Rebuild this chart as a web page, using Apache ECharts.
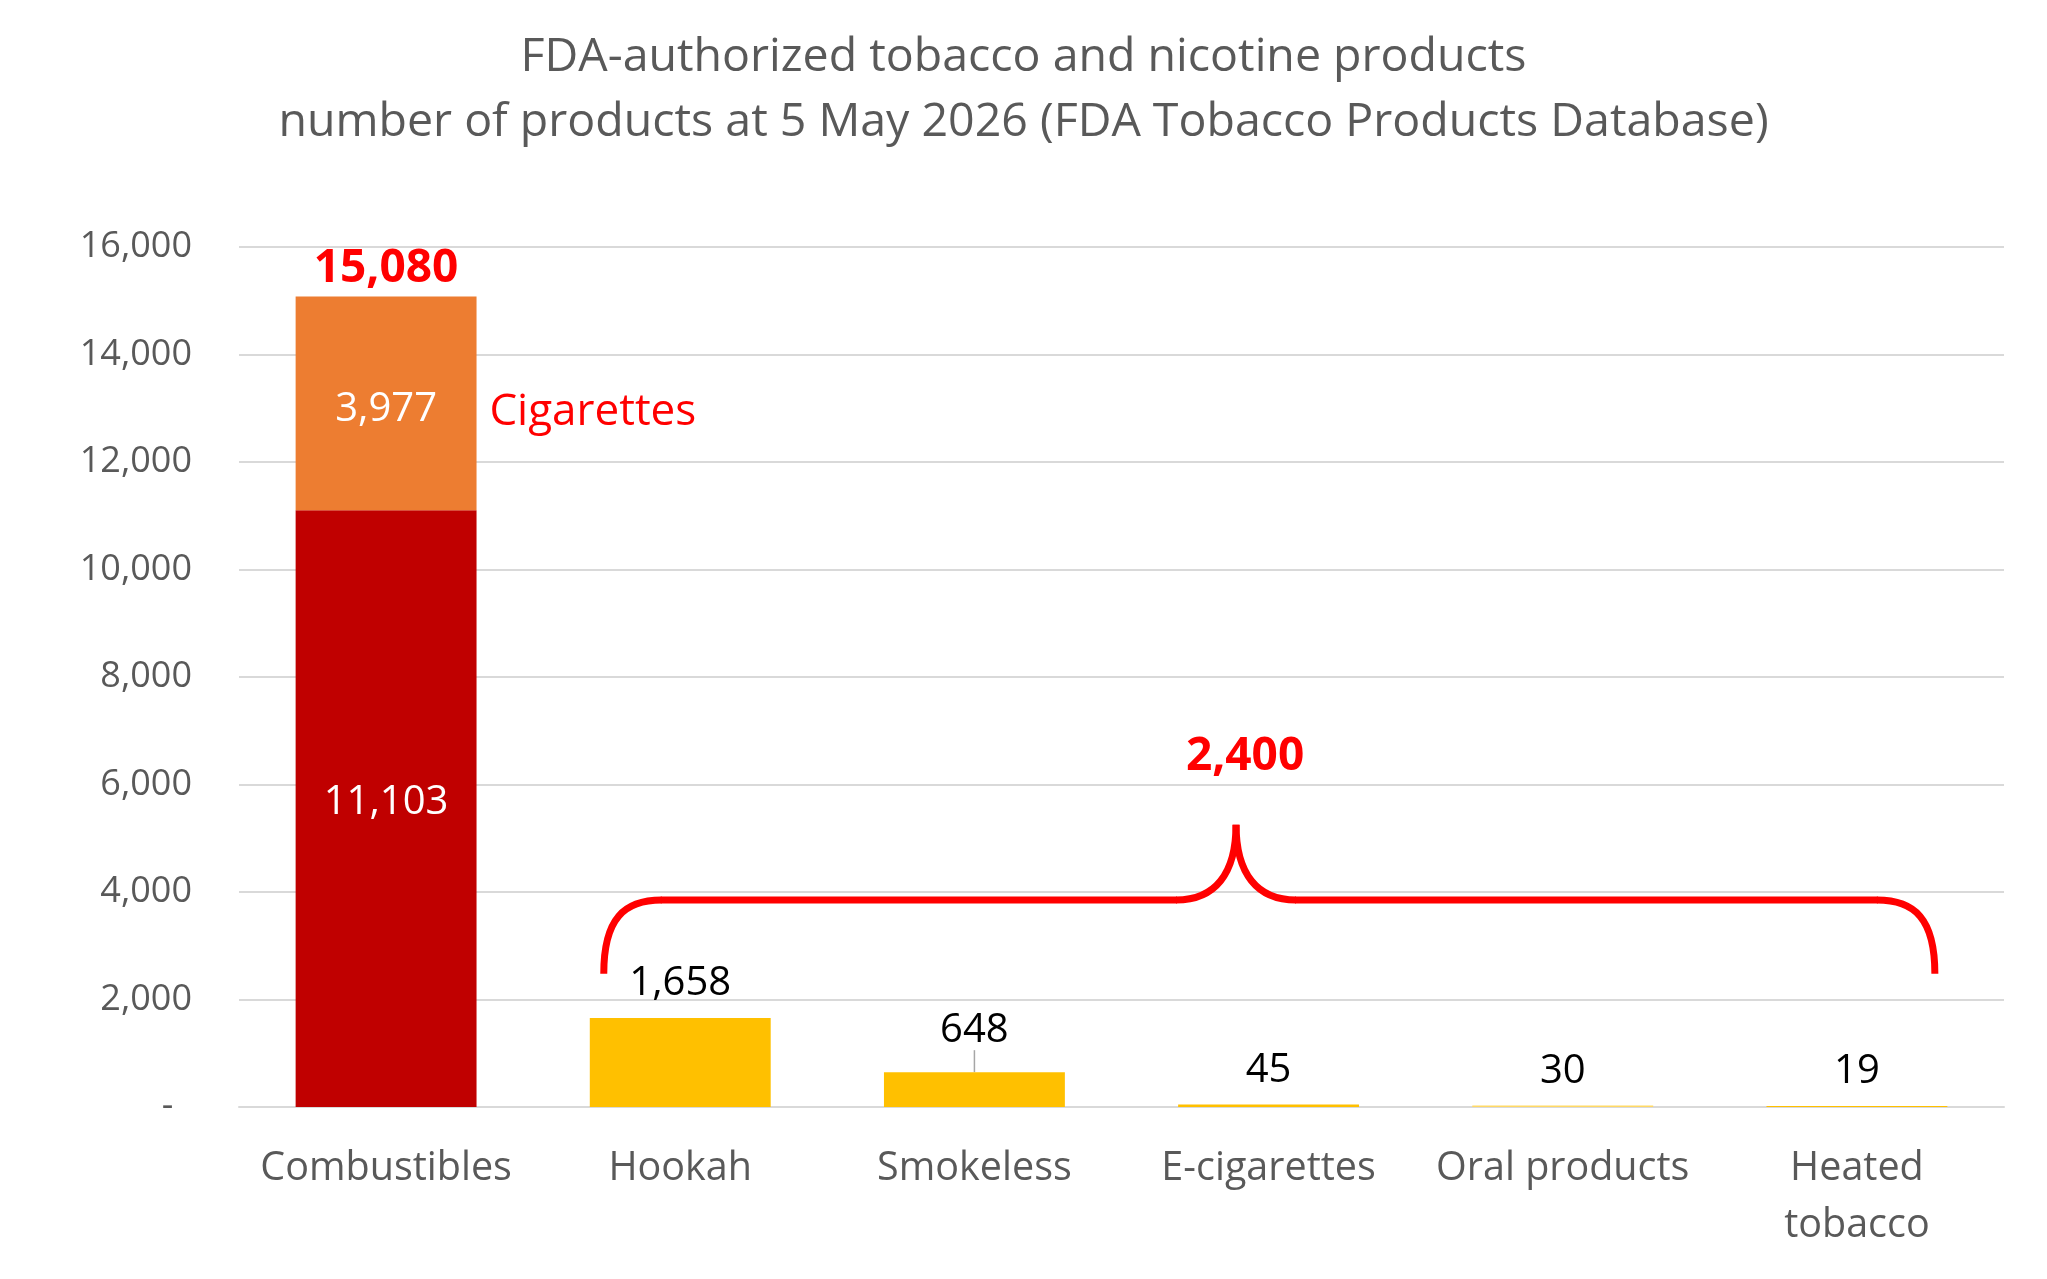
<!DOCTYPE html>
<html>
<head>
<meta charset="utf-8">
<script src="https://cdn.jsdelivr.net/npm/echarts@6/dist/echarts.min.js"></script>
<style>
  html, body { margin: 0; padding: 0; background: #fff; }
  #chart { width: 2047px; height: 1279px; }
</style>
</head>
<body>
<div id="chart"></div>
<script>
const categories = ['Combustibles', 'Hookah', 'Smokeless', 'E-cigarettes', 'Oral products', 'Heated\ntobacco'];
const otherCombustibles = [11103, null, null, null, null, null];
const cigarettes = [3977, null, null, null, null, null];
const otherProducts = [null, 1658, 648, 45, 30, 19];

// annotation levels (in axis values)
const braceEnd = 2480;
const braceBar = 3850;
const braceTip = 5250;

const FONT = '"Open Sans", "Noto Sans", sans-serif';
const fmt = v => Number(v).toLocaleString('en-US');

const chart = echarts.init(document.getElementById('chart'));

const option = {
  animation: false,
  textStyle: { fontFamily: FONT },
  title: {
    text: 'FDA-authorized tobacco and nicotine products\nnumber of products at 5 May 2026 (FDA Tobacco Products Database)',
    left: 'center',
    top: 20,
    textStyle: { fontFamily: FONT, fontSize: 46.5, fontWeight: 'normal', color: '#595959', lineHeight: 65 }
  },
  grid: { left: 239, right: 43, top: 247, bottom: 172, containLabel: false },
  xAxis: {
    type: 'category',
    data: categories,
    axisLine: { show: true, lineStyle: { color: '#d9d9d9', width: 2 } },
    axisTick: { show: false },
    axisLabel: { color: '#595959', fontSize: 39.5, lineHeight: 57, margin: 33, interval: 0 }
  },
  yAxis: {
    type: 'value',
    min: 0,
    max: 16000,
    interval: 2000,
    axisLine: { show: false },
    axisTick: { show: false },
    axisLabel: {
      color: '#595959', fontSize: 36, margin: 47,
      formatter: v => v === 0 ? '-  ' : fmt(v)
    },
    splitLine: { lineStyle: { color: '#d9d9d9', width: 2 } }
  },
  series: [
    {
      name: 'Other combustibles',
      type: 'bar',
      stack: 'total',
      barWidth: '61.5%',
      data: otherCombustibles,
      itemStyle: { color: '#C00000' },
      label: { show: true, position: 'inside', offset: [0, -6], color: '#fff', fontSize: 40, formatter: p => fmt(p.value) }
    },
    {
      name: 'Cigarettes',
      type: 'bar',
      stack: 'total',
      data: cigarettes,
      itemStyle: { color: '#ED7D31' },
      label: { show: true, position: 'inside', offset: [0, 6], color: '#fff', fontSize: 40, formatter: p => fmt(p.value) }
    },
    {
      name: 'Other products',
      type: 'bar',
      stack: 'total',
      data: otherProducts.map((v, i) => i === 2 ? { value: v, labelLine: { show: true } } : v),
      itemStyle: { color: p => p.name === 'Oral products' ? '#FFD966' : '#FFC000' },
      label: { show: true, position: 'top', distance: 14, color: '#000', fontSize: 40, formatter: p => fmt(p.value) },
      labelLine: { show: false, lineStyle: { color: '#a6a6a6', width: 1.5 } },
      labelLayout: p => p.dataIndex === 2 ? { dy: -8 } : {}
    }
  ]
};

chart.setOption(option);

// annotations positioned from the data
const px = (i, v) => chart.convertToPixel({ gridIndex: 0 }, [i, v]);
const combTotal = otherCombustibles[0] + cigarettes[0];
const otherTotal = otherProducts.reduce((s, v) => s + (v || 0), 0);
const catW = px(1, 0)[0] - px(0, 0)[0];

const topPt = px(0, combTotal);
const cigPt = px(0, otherCombustibles[0] + cigarettes[0] / 2);

const xL = px(1, 0)[0] - 0.26 * catW;
const xR = px(5, 0)[0] + 0.265 * catW;
const xT = xL + 0.475 * (xR - xL);
const yE = px(0, braceEnd)[1];
const yH = px(0, braceBar)[1];
const yT = px(0, braceTip)[1];
const rc = 58, rt = 60;

const braceStyle = { stroke: '#FF0000', fill: null, lineWidth: 7, lineCap: 'butt' };
const curve = (x1, y1, c1x, c1y, c2x, c2y, x2, y2) => ({
  type: 'bezierCurve',
  shape: { x1: x1, y1: y1, cpx1: c1x, cpy1: c1y, cpx2: c2x, cpy2: c2y, x2: x2, y2: y2 },
  style: braceStyle
});
const seg = (x1, y1, x2, y2) => ({
  type: 'line',
  shape: { x1: x1, y1: y1, x2: x2, y2: y2 },
  style: braceStyle
});
const dyC = (yE - yH) * 0.25;
const dyT = (yH - yT) * 0.35;

chart.setOption({
  graphic: [
    {
      type: 'text', x: topPt[0], y: topPt[1] - 28,
      style: { text: fmt(combTotal), fill: '#FF0000', fontSize: 46, fontWeight: 'bold', fontFamily: FONT, align: 'center', verticalAlign: 'middle' }
    },
    {
      type: 'text', x: cigPt[0] + catW * 0.307 + 13, y: cigPt[1] + 9,
      style: { text: 'Cigarettes', fill: '#FF0000', fontSize: 44, fontFamily: FONT, align: 'left', verticalAlign: 'middle' }
    },
    curve(xL, yE, xL, yH + dyC, xL + rc * 0.35, yH, xL + rc, yH),
    seg(xL + rc - 1, yH, xT - rt + 1, yH),
    curve(xT - rt, yH, xT - rt * 0.35, yH, xT, yH - dyT, xT, yT),
    curve(xT, yT, xT, yH - dyT, xT + rt * 0.35, yH, xT + rt, yH),
    seg(xT + rt - 1, yH, xR - rc + 1, yH),
    curve(xR - rc, yH, xR - rc * 0.35, yH, xR, yH + dyC, xR, yE),
    {
      type: 'text', x: xT + 9, y: yT - 68,
      style: { text: fmt(otherTotal), fill: '#FF0000', fontSize: 46, fontWeight: 'bold', fontFamily: FONT, align: 'center', verticalAlign: 'middle' }
    }
  ]
});
</script>
</body>
</html>
